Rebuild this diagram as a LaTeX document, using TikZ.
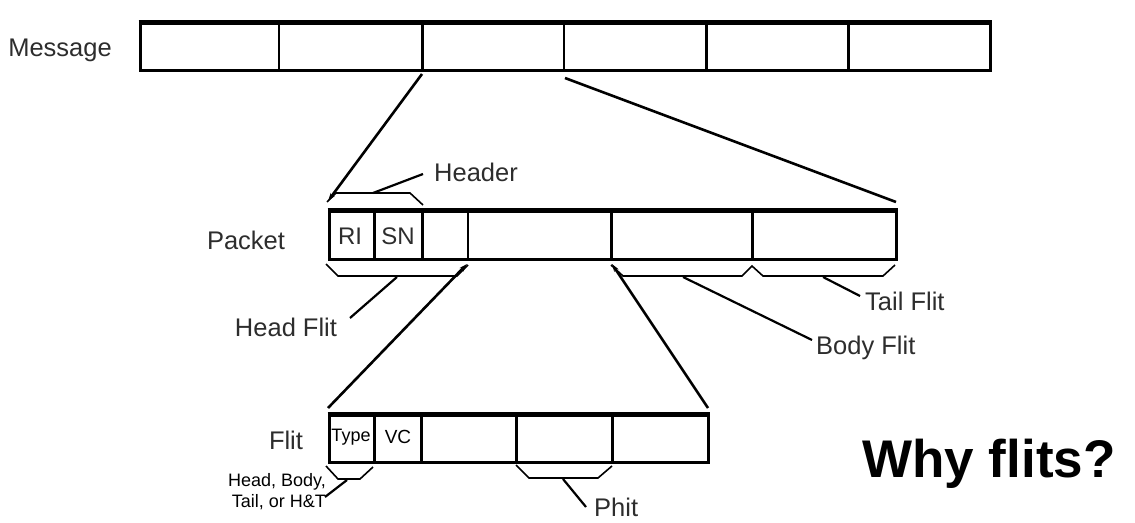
\documentclass[tikz,border=0pt]{standalone}
\usepackage{fontspec}
\setmainfont{Liberation Sans}
\usetikzlibrary{arrows.meta}
\definecolor{labelgray}{RGB}{45,45,45}
\begin{document}
\begin{tikzpicture}[x=1pt,y=-1pt,
  bar/.style={draw=black, line width=3pt, inner sep=0pt, anchor=north west},
  topedge/.style={line width=5pt, line cap=butt},
  thindiv/.style={line width=1.6pt},
  thickdiv/.style={line width=3pt},
  brace/.style={line width=1.6pt, line join=miter},
  pointer/.style={line width=2.2pt},
  zoomline/.style={line width=2.6pt},
  tipend/.style={-{Stealth[length=8pt,width=5pt]}},
  lbl/.style={text=labelgray, inner sep=0pt, font=\fontsize{25.5}{30}\selectfont},
  cell/.style={inner sep=0pt},
]
\useasboundingbox (0,0) rectangle (1135,522);

% ---------- Message ----------
\node[bar, minimum width=850pt, minimum height=47pt] (msg) at (138.5,21.5) {};
\draw[topedge] (msg.north west) ++(0,1) -- ([yshift=-1pt]msg.north east);
\foreach \x in {279,564} \draw[thindiv] (\x,21.5) -- (\x,68.5);
\foreach \x in {422,706,848} \draw[thickdiv] (\x,21.5) -- (\x,68.5);
\node[lbl, anchor=center] (lmsg) at (60,50) {Message};

% ---------- Packet ----------
\node[bar, minimum width=567pt, minimum height=48pt] (pkt) at (327.5,209.5) {};
\draw[topedge] (pkt.north west) ++(0,1) -- ([yshift=-1pt]pkt.north east);
\foreach \x in {374,422,611,752} \draw[thickdiv] (\x,209.5) -- (\x,257.5);
\draw[thindiv] (468,209.5) -- (468,257.5);
\node[lbl, anchor=center] (lpkt) at (246,240) {Packet};
\node[cell, text=labelgray, font=\fontsize{24}{28}\selectfont] (ri) at (350,236) {RI};
\node[cell, text=labelgray, font=\fontsize{24}{28}\selectfont] (sn) at (398,236) {SN};

% ---------- Flit ----------
\node[bar, minimum width=379pt, minimum height=47pt] (flt) at (327.5,413.5) {};
\draw[topedge] (flt.north west) ++(0,1) -- ([yshift=-1pt]flt.north east);
\foreach \x in {374,421,516,612} \draw[thickdiv] (\x,413.5) -- (\x,460.5);
\node[lbl, anchor=center] (lflt) at (286,440) {Flit};
\node[cell, font=\fontsize{18}{20}\selectfont] (type) at (351,437) {Type};
\node[cell, font=\fontsize{19}{20}\selectfont] (vc) at (398,437) {VC};

% ---------- zoom lines ----------
\coordinate (m3) at (422,74);
\coordinate (m4) at (565,78);
\coordinate (pl) at (328,201);
\coordinate (pr) at (896,202);
\draw[zoomline, tipend] (m3) -- (pl);
\draw[zoomline] (m4) -- (pr);
\coordinate (fl) at (328,408);
\coordinate (fr) at (708,408);
\coordinate (p1) at (467,264);
\coordinate (p2) at (612,264);
\draw[zoomline, tipend] (fl) -- (p1);
\draw[zoomline, tipend] (fr) -- (p2);

% ---------- braces ----------
\draw[brace] (327,202) -- (336,193) -- (410,193) -- (423,205);
\draw[brace] (326,264) -- (338,276) -- (457,276) -- (468,265);
\draw[brace] (611,265) -- (623,276) -- (742,276) -- (752,266) -- (763,276) -- (883,276) -- (895,265);
\draw[brace] (326,466) -- (338,479) -- (360,479) -- (373,467);
\draw[brace] (516,465) -- (529,478) -- (598,478) -- (612,466);

% ---------- labels & pointers ----------
\node[lbl, anchor=west] (lhdr) at (434,172) {Header};
\coordinate (bh) at (373,193);
\coordinate (eh) at (423,174);
\draw[pointer] (bh) -- (eh);

\node[lbl, anchor=center] (lhf) at (286,327) {Head Flit};
\coordinate (bhf) at (397,277);
\coordinate (ehf) at (350,318);
\draw[pointer] (bhf) -- (ehf);

\node[lbl, anchor=west] (lbf) at (816,348) {Body Flit};
\coordinate (bbf) at (683,277);
\coordinate (ebf) at (812,340);
\draw[pointer] (bbf) -- (ebf);

\node[lbl, anchor=west] (ltf) at (865,301) {Tail Flit};
\coordinate (btf) at (823,277);
\coordinate (etf) at (860,296);
\draw[pointer] (btf) -- (etf);

\node[inner sep=0pt, align=right, font=\fontsize{18}{21}\selectfont, anchor=east] (ltype) at (326,492) {Head, Body,\\Tail, or H\&T};
\coordinate (bty) at (347,480);
\coordinate (ety) at (325,497);
\draw[pointer] (bty) -- (ety);

\node[lbl, anchor=west] (lphit) at (594,507) {Phit};
\coordinate (bph) at (563,479);
\coordinate (eph) at (586,507);
\draw[pointer] (bph) -- (eph);

\node[inner sep=0pt, font=\fontsize{53}{60}\selectfont\bfseries, anchor=center] (why) at (989,464) {Why flits?};
\end{tikzpicture}
\end{document}
